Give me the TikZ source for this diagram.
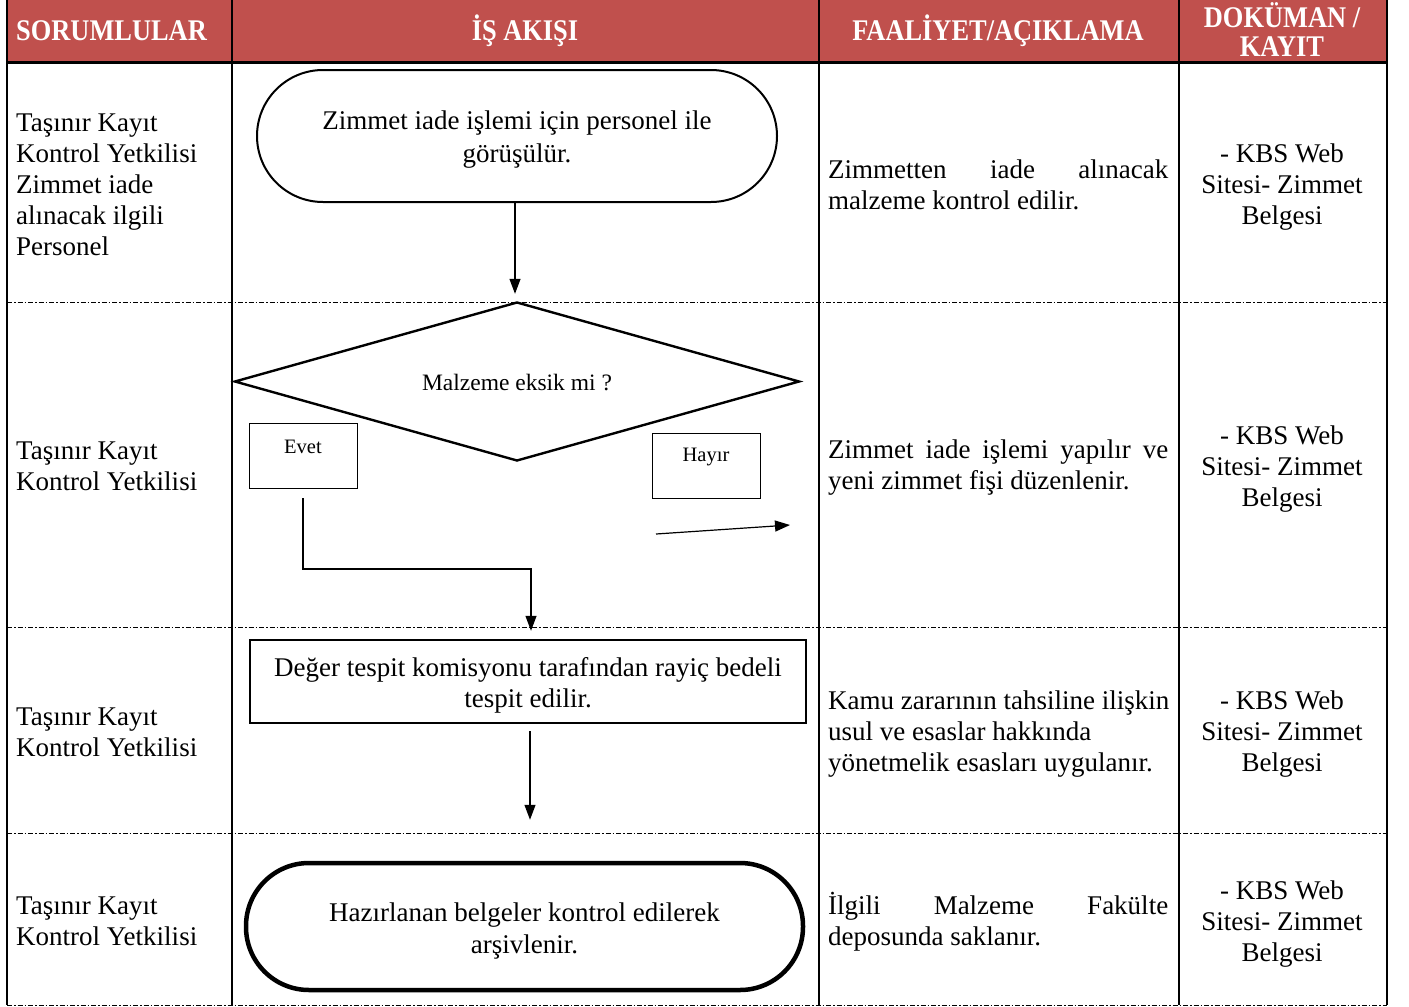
\documentclass[tikz,border=0pt]{standalone}
\usepackage{fontspec}
\setmainfont{Liberation Serif}
\usetikzlibrary{shapes.geometric,arrows.meta}
\definecolor{hdr}{HTML}{C0504D}
\begin{document}
\begin{tikzpicture}[x=1pt,y=-1pt,
  body/.style={font=\fontsize{27}{31}\selectfont, inner sep=0pt},
  hdrtxt/.style={font=\fontsize{30}{29}\selectfont\bfseries, text=white, inner sep=0pt, align=center},
  sep/.style={line width=0.9pt, dash pattern=on 5pt off 2pt on 1.5pt off 2pt},
  colline/.style={line width=2.2pt},
  arr/.style={line width=1.2pt, -{Triangle[length=15pt,width=11pt]}},
  smallbox/.style={draw, line width=0.9pt, minimum width=108pt, minimum height=65pt, inner sep=0pt},
  smalltxt/.style={font=\fontsize{20.5}{24}\selectfont, inner sep=0pt}
]
\useasboundingbox (0,0) rectangle (1409,1007);
% header
\fill[hdr] (7,0) rectangle (1387,62);
\draw[line width=3pt] (6,62) -- (1388,62);
% column lines
\foreach \x in {7,232,819,1179,1387} \draw[colline] (\x,0) -- (\x,1005);
% row separators
\foreach \y in {302,627,833,1005} \draw[sep] (7,\y) -- (1387,\y);

% header texts
\node[hdrtxt, anchor=west] (h1) at (16,31) {\scalebox{0.88}[1]{SORUMLULAR}};
\node[hdrtxt] (h2) at (525,31) {\scalebox{0.88}[1]{İŞ AKIŞI}};
\node[hdrtxt] (h3) at (998,31) {\scalebox{0.88}[1]{FAALİYET/AÇIKLAMA}};
\node[hdrtxt] (h4) at (1282,29.5) {\scalebox{0.88}[1]{DOKÜMAN /}\\\scalebox{0.88}[1]{KAYIT}};

% column 1
\node[body, anchor=west, align=left] (r1) at (16,185) {Taşınır Kayıt\\Kontrol Yetkilisi\\Zimmet iade\\alınacak ilgili\\Personel};
\node[body, anchor=west, align=left] (r2) at (16,466) {Taşınır Kayıt\\Kontrol Yetkilisi};
\node[body, anchor=west, align=left] (r3) at (16,732) {Taşınır Kayıt\\Kontrol Yetkilisi};
\node[body, anchor=west, align=left] (r4) at (16,921) {Taşınır Kayıt\\Kontrol Yetkilisi};

% column 3
\node[body, anchor=west, text width=340pt, align=justify] (f1) at (828,185) {Zimmetten iade alınacak\linebreak malzeme kontrol edilir.};
\node[body, anchor=west, text width=340pt, align=justify] (f2) at (828,468) {Zimmet iade işlemi yapılır ve\linebreak yeni zimmet fişi düzenlenir.};
\node[body, anchor=west, align=left] (f3) at (828,734) {Kamu zararının tahsiline ilişkin\\usul ve esaslar hakkında\\yönetmelik esasları uygulanır.};
\node[body, anchor=west, text width=340pt, align=justify] (f4) at (828,922) {İlgili Malzeme Fakülte\linebreak deposunda saklanır.};

% column 4
\foreach \n/\y in {d1/187,d2/469,d3/734,d4/924}
  \node[body, align=center] (\n) at (1282,\y) {- KBS Web\\Sitesi- Zimmet\\Belgesi};

% flow
\node[draw, line width=2pt, rounded corners=66pt, minimum width=520pt, minimum height=132pt] (t1) at (517,136) {};
\node[body, align=center, font=\fontsize{27}{33}\selectfont] (t1t) at (517,140) {Zimmet iade işlemi için personel ile\\görüşülür.};
\node[draw, diamond, aspect=3.55, line width=2.4pt, minimum width=565pt, minimum height=159pt, inner sep=0pt] (dia) at (517,381.5) {};
\node[font=\fontsize{23.5}{26}\selectfont, inner sep=0pt] (diat) at (517,383) {Malzeme eksik mi ?};
\node[smallbox] (evet) at (303,455.5) {};
\node[smalltxt] (evett) at (303,447) {Evet};
\node[smallbox] (hayir) at (706,466) {};
\node[smalltxt] (hayirt) at (706,457) {Hayır};
\node[draw, line width=2.4pt, minimum width=556pt, minimum height=83pt] (proc) at (528,681.5) {};
\node[body, align=center] (proct) at (528,685.5) {Değer tespit komisyonu tarafından rayiç bedeli\\tespit edilir.};
\node[draw, line width=4.5pt, rounded corners=63pt, minimum width=557pt, minimum height=127pt] (t2) at (524.5,926.5) {};
\node[body, align=center, font=\fontsize{27}{32}\selectfont] (t2t) at (524.5,931) {Hazırlanan belgeler kontrol edilerek\\arşivlenir.};

% connectors
\draw[arr, shorten >=7pt] (t1.south -| 515,0) -- (dia.north -| 515,0);
\coordinate (bend) at (531,569);
\draw[arr] ([yshift=-10pt]evet.south) |- (bend) -- ([yshift=8pt]proc.north -| bend);
\coordinate (h1s) at (656,534);
\coordinate (h1e) at (790,525);
\draw[arr] (h1s) -- (h1e);
\draw[arr, shorten <=7pt, shorten >=41pt] (proc.south -| 530,0) -- (t2.north -| 530,0);
\end{tikzpicture}
\end{document}
